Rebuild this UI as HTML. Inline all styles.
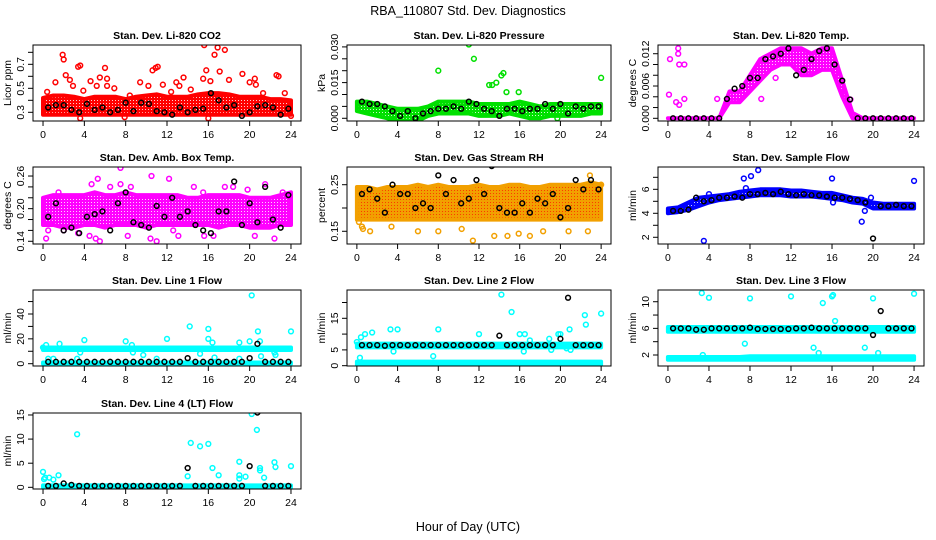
<!DOCTYPE html>
<html><head><meta charset="utf-8"><style>
body{margin:0;background:#fff;}
svg{display:block;font-family:"Liberation Sans",sans-serif;}
</style></head><body>
<svg id="chart" width="936" height="540" viewBox="0 0 936 540">
<defs id="defs"></defs>
<text x="468" y="15" text-anchor="middle" font-size="12.5">RBA_110807  Std. Dev. Diagnostics</text>
<text x="468" y="531" text-anchor="middle" font-size="12.5">Hour of Day (UTC)</text>
</svg>
<script>
const hours = [0,1,2,3,4,5,6,7,8,9,10,11,12,13,14,15,16,17,18,19,20,21,22,23,24];
const xTicks = [0,4,8,12,16,20,24];

// Panel 1: CO2
const co2Lo = [0.28,0.28,0.28,0.28,0.28,0.28,0.28,0.28,0.28,0.28,0.28,0.28,0.28,0.28,0.28,0.28,0.28,0.28,0.28,0.28,0.28,0.28,0.28,0.28,0.28];
const co2Hi = [0.42,0.44,0.44,0.43,0.41,0.43,0.43,0.43,0.41,0.43,0.44,0.45,0.43,0.43,0.43,0.45,0.46,0.46,0.45,0.43,0.43,0.43,0.41,0.41,0.40];
const co2Out = [[0.4,0.47],[1.2,0.55],[1.9,0.78],[2,0.74],[2.2,0.61],[2.6,0.57],[2.9,0.52],[3.4,0.68],[3.6,0.69],[3.9,0.48],[4.6,0.56],[5.2,0.52],[5.5,0.59],[6,0.67],[6.2,0.58],[6.2,0.52],[6.9,0.5],[8.4,0.44],[9.4,0.55],[10.2,0.52],[10.6,0.65],[10.9,0.67],[11.1,0.68],[11.6,0.53],[12.4,0.47],[12.9,0.55],[13.2,0.52],[13.6,0.59],[14.3,0.49],[15.5,0.58],[15.6,0.86],[15.8,0.65],[16.2,0.56],[16.6,0.78],[16.9,0.84],[17.1,0.64],[17.6,0.82],[18,0.57],[19.3,0.62],[20,0.55],[20.5,0.58],[20.6,0.53],[21.3,0.46],[22.6,0.61],[22.8,0.6],[23.4,0.46],[24,0.27],[3.6,0.25],[7.9,0.26],[16,0.25]];
const co2Black = [0.34,0.36,0.36,0.32,0.30,0.37,0.32,0.34,0.30,0.32,0.38,0.31,0.38,0.37,0.31,0.30,0.28,0.34,0.30,0.32,0.33,0.46,0.40,0.34,0.36,0.27,0.30,0.35,0.36,0.34,0.28,0.33];

// Panel 2: Pressure
const presLo = [0.003,0.002,0.001,0.000,-0.001,-0.001,-0.001,0.001,0.002,0.002,0.002,0.002,0.001,0.001,0.001,0.002,0.001,0.000,0.000,0.001,0.001,0.001,0.001,0.002,0.002];
const presHi = [0.007,0.007,0.006,0.005,0.004,0.004,0.004,0.005,0.007,0.007,0.007,0.007,0.006,0.006,0.006,0.006,0.007,0.006,0.005,0.006,0.006,0.006,0.006,0.006,0.006];
const presOut = [[8,0.020],[11,0.031],[11.5,0.025],[13,0.014],[13.3,0.014],[13.7,0.015],[14.2,0.018],[14.4,0.019],[14.7,0.011],[15.9,0.011],[24,0.017],[19.7,0.000]];
const presBlack = [0.007,0.006,0.006,0.005,0.003,0.001,0.003,0.000,0.002,0.003,0.004,0.004,0.005,0.004,0.007,0.006,0.004,0.003,0.001,0.004,0.004,0.003,0.004,0.004,0.006,0.004,0.006,0.002,0.005,0.004,0.005,0.005];

// Panel 3: Li-820 Temp
const ltLo = [0,0,0,0,0,0,0.003,0.003,0.005,0.007,0.009,0.010,0.010,0.008,0.008,0.009,0.009,0.004,0,0,0,0,0,0,0];
const ltHi = [0,0,0,0,0,0,0.005,0.005,0.008,0.011,0.012,0.013,0.013,0.013,0.012,0.013,0.013,0.007,0.001,0,0,0,0,0,0];
const ltOut = [[0.1,0.0044],[0.2,0.011],[1,0.013],[1,0.012],[1.1,0.010],[0.8,0.003],[1.6,0.010],[1.1,0.0025],[1.6,0.0036],[4.8,0.0036],[9.1,0.0036],[10.5,0.0075],[17.2,0.005],[17.8,0.0035]];
const ltBlack = [0,0,0,0,0,0,0,0.0036,0.0055,0.006,0.0075,0.0075,0.011,0.0115,0.012,0.013,0.008,0.009,0.011,0.0125,0.013,0.010,0.007,0.0035,0,0,0,0,0,0,0,0];

// Panel 4: Amb Box Temp
const abLo = [0.17,0.17,0.165,0.165,0.17,0.17,0.165,0.17,0.17,0.17,0.165,0.17,0.17,0.17,0.17,0.17,0.17,0.165,0.17,0.17,0.165,0.165,0.165,0.17,0.17];
const abHi = [0.22,0.225,0.225,0.225,0.225,0.23,0.225,0.225,0.23,0.225,0.225,0.225,0.225,0.225,0.22,0.22,0.225,0.225,0.225,0.225,0.22,0.22,0.22,0.225,0.23];
const abOut = [[0.3,0.145],[0.5,0.16],[1.5,0.23],[2,0.16],[3.4,0.155],[4.5,0.15],[4.7,0.245],[5.1,0.145],[5.3,0.255],[5.5,0.14],[6.5,0.24],[7.5,0.275],[7.5,0.245],[8.2,0.15],[8.5,0.24],[9.2,0.2],[10.4,0.145],[10.5,0.26],[11,0.14],[12.2,0.255],[12.6,0.16],[13.1,0.15],[14.6,0.24],[15.5,0.23],[15.6,0.15],[16.5,0.15],[17.6,0.24],[18.4,0.24],[19.8,0.235],[20.5,0.15],[21.5,0.245],[22.4,0.145],[23.2,0.23]];
const abBlack = [0.185,0.21,0.16,0.165,0.155,0.185,0.19,0.195,0.16,0.21,0.23,0.175,0.17,0.165,0.205,0.185,0.22,0.185,0.195,0.17,0.16,0.155,0.195,0.195,0.25,0.17,0.21,0.175,0.24,0.18,0.165,0.225];

// Panel 5: Gas Stream RH
const rhLo = [0.175,0.175,0.175,0.175,0.175,0.175,0.175,0.175,0.175,0.175,0.175,0.175,0.175,0.175,0.175,0.175,0.175,0.175,0.175,0.175,0.175,0.175,0.175,0.175,0.175];
const rhHi = [0.245,0.245,0.24,0.245,0.245,0.245,0.25,0.245,0.25,0.245,0.245,0.245,0.25,0.245,0.245,0.25,0.25,0.245,0.245,0.25,0.25,0.25,0.25,0.255,0.25];
const rhOut = [[0.2,0.17],[0.5,0.16],[0.6,0.155],[1.3,0.15],[1.5,0.18],[3.4,0.16],[6,0.15],[8,0.15],[10.3,0.155],[11.4,0.13],[13.5,0.14],[14.8,0.14],[15.9,0.145],[17,0.14],[18.3,0.15],[20.8,0.15],[22.7,0.15],[22.9,0.27],[24,0.25]];
const rhBlack = [0.23,0.24,0.22,0.19,0.25,0.23,0.23,0.20,0.21,0.20,0.27,0.23,0.26,0.21,0.22,0.26,0.23,0.29,0.20,0.19,0.19,0.21,0.19,0.22,0.21,0.23,0.18,0.20,0.26,0.24,0.26,0.24];

// Panel 6: Sample Flow
const sfLo = [4.0,4.1,4.3,4.6,4.9,5.1,5.2,5.3,5.4,5.5,5.5,5.5,5.4,5.4,5.4,5.3,5.2,5.1,4.9,4.8,4.4,4.4,4.4,4.4,4.4];
const sfHi = [4.4,4.5,4.9,5.3,5.4,5.5,5.6,5.8,5.9,6.0,6.0,6.0,5.9,5.9,5.8,5.7,5.7,5.5,5.3,5.2,4.9,4.8,4.8,4.8,4.8];
const sfOut = [[3.5,1.7],[7.4,6.9],[7.6,6.1],[8.1,7.1],[8.8,7.6],[16,6.9],[18.9,3.3],[19.2,4.2],[19.8,5.3],[24,6.7],[4,5.6],[16.1,4.9]];
const sfBlack = [4.2,4.2,4.3,5.3,5.0,5.1,5.3,5.3,5.4,5.3,5.6,5.6,5.7,5.6,5.8,5.6,5.5,5.6,5.5,5.5,5.4,5.3,5.3,5.2,5.1,4.9,1.9,4.6,4.6,4.7,4.6,4.6];

// Panel 7: Line 1 Flow
const l1LoA = [11,11,11,11,11,11,11,11,11,11,11,11,11,11,11,11,11,11,11,11,11,11,11,11,11];
const l1HiA = [13,13,13,13,13,13,13,13,13,13,13,13,13,13,13,13,13,13,13,13,13,13,13,13,13];
const l1LoB = [0,0,0,0,0,0,0,0,0,0,0,0,0,0,0,0,0,0,0,0,0,0,0,0,0];
const l1HiB = [1,1,1,1,1,1,1,1,1,1,1,1,1,1,1,1,1,1,1,1,1,1,1,1,1];
const l1Out = [[0,13],[0.3,15],[0.5,4],[1,4],[1.6,16],[3.3,4],[3.6,9],[4,19],[8,18],[8.6,15],[8.7,9],[9.7,7],[11,4],[12,20],[14.2,30],[15.2,8],[16,28],[16,20],[16.4,17],[16.6,5],[19,17],[19,4],[20,18],[20.2,55],[20.8,26],[21,18],[21.1,6],[22.4,9],[22.5,7],[24,26]];
const l1Black = [1.5,1.5,1.5,1.5,1.5,1.5,1.5,1.5,1.5,1.5,1.5,1.5,1.5,1.5,1.5,1.5,1.5,1.5,4.5,1.5,1.5,1.5,1.5,1.5,1.5,1.5,4.5,16,1.5,1.5,1.5,1.5];

// Panel 8: Line 2 Flow
const l2LoA = [5.8,5.8,5.8,5.8,5.8,5.8,5.8,5.8,5.8,5.8,5.8,5.8,5.8,5.8,5.8,5.8,5.8,5.8,5.8,5.8,5.8,5.8,5.8,5.8,5.8];
const l2HiA = [7.0,7.0,7.0,7.0,7.0,7.0,7.0,7.0,7.0,7.0,7.0,7.0,7.0,7.0,7.0,7.0,7.0,7.0,7.0,7.0,7.0,7.0,7.0,7.0,7.0];
const l2LoB = [0.3,0.3,0.3,0.3,0.3,0.3,0.3,0.3,0.3,0.3,0.3,0.3,0.3,0.3,0.3,0.3,0.3,0.3,0.3,0.3,0.3,0.3,0.3,0.3,0.3];
const l2HiB = [1.3,1.3,1.3,1.3,1.3,1.3,1.3,1.3,1.3,1.3,1.3,1.3,1.3,1.3,1.3,1.3,1.3,1.3,1.3,1.3,1.3,1.3,1.3,1.3,1.3];
const l2Out = [[0,7.5],[0.4,9],[0.8,10],[1.5,10.5],[0.3,2.5],[3.3,11.5],[3.6,4.5],[4,11.5],[7.5,3],[8,11.5],[12,10],[14.2,22.5],[15.2,17],[16,10],[16.5,10],[16.4,4.5],[17,8],[18.9,8.5],[19.1,5],[19.8,10],[20,10],[20.6,5.5],[20.9,11.5],[21,5],[22.4,16],[22.5,13],[24,16.5]];
const l2Black = [6.5,6.5,6.5,6.3,6.5,6.5,6.5,6.5,6.5,6.5,6.5,6.5,6.5,6.5,6.5,6.5,6.5,6.5,9.5,6.5,6.5,6.5,6.5,6.5,6.5,6.5,8.5,21.5,6.5,6.5,6.5,6.5];

// Panel 9: Line 3 Flow
const l3LoA = [5.5,5.5,5.5,5.5,5.5,5.5,5.5,5.5,5.5,5.5,5.5,5.5,5.5,5.5,5.5,5.5,5.5,5.5,5.5,5.5,5.5,5.5,5.5,5.5,5.5];
const l3HiA = [6.2,6.2,6.2,6.2,6.2,6.2,6.2,6.2,6.2,6.2,6.2,6.2,6.2,6.2,6.2,6.2,6.2,6.2,6.2,6.2,6.2,6.2,6.2,6.2,6.2];
const l3LoB = [1.3,1.3,1.3,1.3,1.3,1.3,1.3,1.3,1.3,1.3,1.3,1.3,1.3,1.3,1.3,1.3,1.3,1.3,1.3,1.3,1.3,1.3,1.3,1.3,1.3];
const l3HiB = [1.7,1.7,1.7,1.7,1.7,1.7,1.7,1.7,1.8,1.8,1.8,1.8,1.8,1.8,1.8,1.8,1.8,1.8,1.8,1.8,1.8,1.8,1.8,1.8,1.8];
const l3Out = [[3.3,11.3],[4,10.6],[8,10.5],[12,10.8],[16,10.8],[16.1,11],[15.1,9.8],[16.3,7.1],[7.5,3.7],[14.2,3.1],[14.7,2.3],[19.2,3.1],[20,10.5],[20.5,2.3],[24,11.2],[3.4,2.0]];
const l3Black = [6.0,6.0,6.0,5.8,5.8,6.0,6.0,6.0,6.0,6.0,6.1,5.9,5.9,5.9,5.9,5.9,6.0,6.0,6.1,6.0,6.0,6.0,6.0,6.0,6.0,6.0,5.0,8.6,6.0,6.0,6.0,6.0];

// Panel 10: Line 4 (LT) Flow
const l4Lo = [0,0,0,0,0,0,0,0,0,0,0,0,0,0,0,0,0,0,0,0,0,0,0,0,0];
const l4Hi = [0.4,0.4,0.4,0.4,0.4,0.4,0.4,0.4,0.4,0.4,0.4,0.4,0.4,0.4,0.4,0.4,0.4,0.4,0.4,0.4,0.4,0.4,0.4,0.4,0.4];
const l4Out = [[0,3.2],[0.1,1.7],[0.2,2],[0.6,2],[1,1.6],[1.5,2.5],[3.3,11],[14,2.3],[14.3,9.2],[15.2,8.5],[16,9],[16.4,4],[17,2.5],[19,5.3],[19,2.5],[19,1.8],[19.6,2.2],[20.2,15.2],[20.7,11.9],[21,3.5],[21,4],[21.4,2],[22.4,5.2],[22.5,4.2],[24,4.4]];
const l4Black = [0.3,0.3,0.8,0.5,0.3,0.3,0.3,0.3,0.3,0.3,0.3,0.3,0.3,0.3,0.3,0.3,0.3,0.3,4,0.3,0.3,0.3,0.3,0.3,0.3,0.3,4.4,15.5,0.3,0.3,0.3,0.3];

const blackX = [];
for (let i = 0; i < 32; i++) blackX.push(0.5 + i * 0.75);

const NS = "http://www.w3.org/2000/svg";
const svg = document.getElementById('chart');
const defs = document.getElementById('defs');
function mk(tag, attrs, parent) {
  const e = document.createElementNS(NS, tag);
  for (const k in attrs) e.setAttribute(k, attrs[k]);
  (parent || svg).appendChild(e);
  return e;
}
const patterns = {};
function pat(color) {
  if (patterns[color]) return patterns[color];
  const id = 'pat' + Object.keys(patterns).length;
  const p = mk('pattern', {id: id, width: 3, height: 3, patternUnits: 'userSpaceOnUse'}, defs);
  mk('rect', {x: 0, y: 0, width: 3, height: 3, fill: color}, p);
  mk('rect', {x: 1, y: 1, width: 1, height: 1, fill: color === '#f2a000' ? '#ff2000' : '#ffffff', opacity: 0.8}, p);
  patterns[color] = 'url(#' + id + ')';
  return patterns[color];
}
const cols = [[33, 301], [347, 611], [658, 924]];
const rows = [[45, 121], [167, 244], [290, 366], [413, 489]];
const XD = [-0.97, 24.97];

const panels = [
  {key:'co2', t:'Stan. Dev. Li-820 CO2', yl:'Licor ppm', c:0, r:0, yd:[0.2275,0.861], col:'#ff0000', bands:[[co2Lo,co2Hi]], out:co2Out, blk:co2Black, ticks:[0.3,0.4,0.5,0.6,0.7,0.8], labels:['0.3','','0.5','','0.7','']},
  {key:'pressure', t:'Stan. Dev. Li-820 Pressure', yl:'kPa', c:1, r:0, yd:[-0.00114,0.0308], col:'#00e000', bands:[[presLo,presHi]], out:presOut, blk:presBlack, ticks:[0,0.005,0.01,0.015,0.02,0.025,0.03], labels:['0.000','','','0.015','','','0.030']},
  {key:'li820-temp', t:'Stan. Dev. Li-820 Temp.', yl:'degrees C', c:2, r:0, yd:[-0.0005,0.01362], col:'#ff00ff', bands:[[ltLo,ltHi]], out:ltOut, blk:ltBlack, ticks:[0,0.002,0.004,0.006,0.008,0.01,0.012], labels:['0.000','','','0.006','','','0.012']},
  {key:'amb-box-temp', t:'Stan. Dev. Amb. Box Temp.', yl:'degrees C', c:0, r:1, yd:[0.135,0.2766], col:'#ff00ff', bands:[[abLo,abHi]], out:abOut, blk:abBlack, ticks:[0.14,0.16,0.18,0.2,0.22,0.24,0.26], labels:['0.14','','','0.20','','','0.26']},
  {key:'gas-rh', t:'Stan. Dev. Gas Stream RH', yl:'percent', c:1, r:1, yd:[0.1227,0.288], col:'#f2a000', bands:[[rhLo,rhHi]], out:rhOut, blk:rhBlack, ticks:[0.15,0.2,0.25], labels:['0.15','','0.25']},
  {key:'sample-flow', t:'Stan. Dev. Sample Flow', yl:'ml/min', c:2, r:1, yd:[1.44,7.86], col:'#0000ff', bands:[[sfLo,sfHi]], out:sfOut, blk:sfBlack, ticks:[2,3,4,5,6,7], labels:['2','','4','','6','']},
  {key:'line1-flow', t:'Stan. Dev. Line 1 Flow', yl:'ml/min', c:0, r:2, yd:[-1.85,59.3], col:'#00ffff', bands:[[l1LoA,l1HiA],[l1LoB,l1HiB]], out:l1Out, blk:l1Black, ticks:[0,10,20,30,40,50], labels:['0','','20','','40','']},
  {key:'line2-flow', t:'Stan. Dev. Line 2 Flow', yl:'ml/min', c:1, r:2, yd:[-0.1,23.96], col:'#00ffff', bands:[[l2LoA,l2HiA],[l2LoB,l2HiB]], out:l2Out, blk:l2Black, ticks:[0,5,10,15,20], labels:['0','5','','15','']},
  {key:'line3-flow', t:'Stan. Dev. Line 3 Flow', yl:'ml/min', c:2, r:2, yd:[0.35,11.76], col:'#00ffff', bands:[[l3LoA,l3HiA],[l3LoB,l3HiB]], out:l3Out, blk:l3Black, ticks:[2,4,6,8,10], labels:['2','','6','','10']},
  {key:'line4-flow', t:'Stan. Dev. Line 4 (LT) Flow', yl:'ml/min', c:0, r:3, yd:[-0.35,15.41], col:'#00ffff', bands:[[l4Lo,l4Hi]], out:l4Out, blk:l4Black, ticks:[0,5,10,15], labels:['0','5','10','15']}
];

panels.forEach(p => {
  const [x0, x1] = cols[p.c];
  const [y0, y1] = rows[p.r];
  const sx = v => x0 + (v - XD[0]) / (XD[1] - XD[0]) * (x1 - x0);
  const sy = v => y1 - (v - p.yd[0]) / (p.yd[1] - p.yd[0]) * (y1 - y0);
  const g = mk('g', {});
  
  
  const cid = 'clip-' + p.key;
  const cp = mk('clipPath', {id: cid}, g);
  mk('rect', {x: x0, y: y0, width: x1 - x0, height: y1 - y0}, cp);
  const plot = mk('g', {'clip-path': 'url(#' + cid + ')'}, g);
  
  
  p.bands.forEach((b, bi) => {
    let d = '';
    hours.forEach((h, i) => { d += (i ? 'L' : 'M') + sx(h).toFixed(1) + ',' + sy(b[1][i]).toFixed(1); });
    for (let i = hours.length - 1; i >= 0; i--) d += 'L' + sx(hours[i]).toFixed(1) + ',' + sy(b[0][i]).toFixed(1);
    d += 'Z';
    const band = mk('path', {d: d, fill: pat(p.col), stroke: p.col, 'stroke-width': 4, 'stroke-linejoin': 'round'}, plot);
    
    
  });
  p.out.forEach(pt => {
    const c = mk('circle', {cx: sx(pt[0]), cy: sy(pt[1]), r: 2.4, fill: 'none', stroke: p.col, 'stroke-width': 1.5}, plot);
    
    
  });
  p.blk.forEach((v, i) => {
    const c = mk('circle', {cx: sx(blackX[i]), cy: sy(v), r: 2.4, fill: 'none', stroke: '#000', 'stroke-width': 1.5}, plot);
    
    
  });
  const box = mk('rect', {x: x0, y: y0, width: x1 - x0, height: y1 - y0, fill: 'none', stroke: '#000', 'stroke-width': 1}, g);
  
  
  const xa = mk('g', {}, g);
  
  
  mk('line', {x1: sx(0), x2: sx(24), y1: y1, y2: y1, stroke: '#000'}, xa);
  xTicks.forEach(t => {
    mk('line', {x1: sx(t), x2: sx(t), y1: y1, y2: y1 + 5, stroke: '#000'}, xa);
    const tx = mk('text', {x: sx(t), y: y1 + 17, 'text-anchor': 'middle', 'font-size': 10.5}, xa);
    tx.textContent = t;
    
    
  });
  const ya = mk('g', {}, g);
  
  
  mk('line', {x1: x0, x2: x0, y1: sy(p.ticks[0]), y2: sy(p.ticks[p.ticks.length - 1]), stroke: '#000'}, ya);
  p.ticks.forEach((t, i) => {
    mk('line', {x1: x0 - 5, x2: x0, y1: sy(t), y2: sy(t), stroke: '#000'}, ya);
    if (p.labels[i]) {
      const tx = mk('text', {x: 0, y: 0, 'text-anchor': 'middle', 'font-size': 10.5, transform: 'translate(' + (x0 - 9) + ',' + sy(t) + ') rotate(-90)'}, ya);
      tx.textContent = p.labels[i];
      
      
    }
  });
  const yl = mk('text', {x: 0, y: 0, 'text-anchor': 'middle', 'font-size': 10.5, transform: 'translate(' + (x0 - 22) + ',' + ((y0 + y1) / 2) + ') rotate(-90)'}, g);
  yl.textContent = p.yl;
  
  
  const tt = mk('text', {x: (x0 + x1) / 2, y: y0 - 6, 'text-anchor': 'middle', 'font-size': 10.5, 'font-weight': 'bold'}, g);
  tt.textContent = p.t;
  
  
});
</script>
</body></html>
